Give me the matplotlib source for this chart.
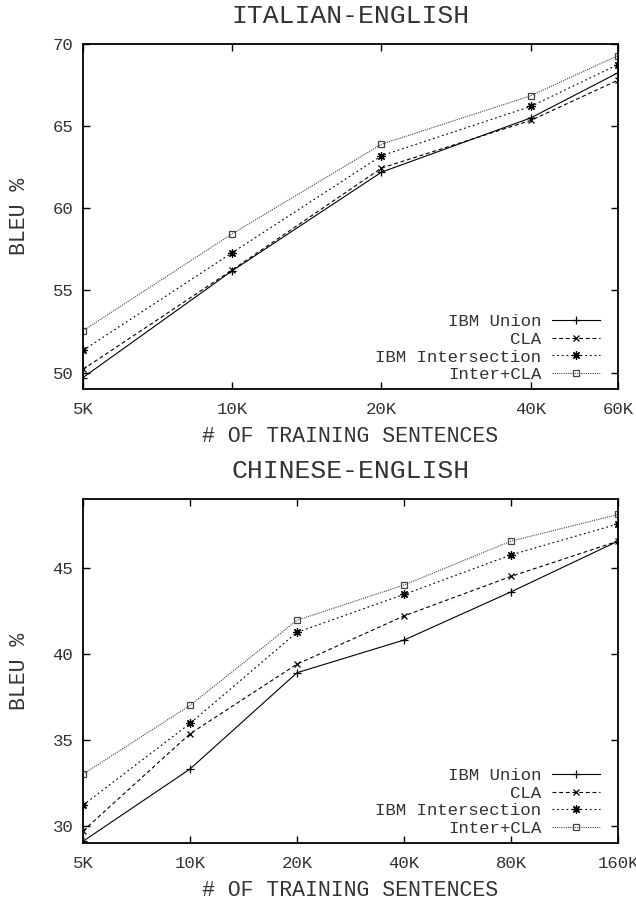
import matplotlib
matplotlib.use("Agg")
import matplotlib.pyplot as plt

# training set sizes
it_sizes = [5000, 10000, 20000, 40000, 60000]
it_labels = ["5K", "10K", "20K", "40K", "60K"]
zh_sizes = [5000, 10000, 20000, 40000, 80000, 160000]
zh_labels = ["5K", "10K", "20K", "40K", "80K", "160K"]

# BLEU %
it_union = [49.7, 56.2, 62.2, 65.5, 68.25]
it_cla = [50.2, 56.25, 62.45, 65.35, 67.8]
it_inter = [51.35, 57.3, 63.2, 66.2, 68.75]
it_inter_cla = [52.55, 58.45, 63.9, 66.85, 69.3]

zh_union = [29.1, 33.3, 38.9, 40.8, 43.6, 46.55]
zh_cla = [29.7, 35.35, 39.4, 42.2, 44.5, 46.55]
zh_inter = [31.2, 35.95, 41.25, 43.45, 45.75, 47.55]
zh_inter_cla = [33.0, 37.0, 41.95, 44.0, 46.55, 48.1]

series_names = ["IBM Union", "CLA", "IBM Intersection", "Inter+CLA"]

plt.rcParams['font.family'] = ['Liberation Mono', 'DejaVu Sans Mono']
TXT = '#333333'

styles = [
    dict(color='black', linestyle='-', marker='+', markersize=6),
    dict(color='black', linestyle=(0, (3.5, 2.5)), marker='x', markersize=5),
    dict(color='black', linestyle=(0, (1.6, 2.6)), marker=(8, 2, 0), markersize=6),
    dict(color='#444444', linestyle=(0, (1, 1)), marker='s', markersize=5,
         markerfacecolor='none'),
]


def draw_panel(ax, sizes, labels, series, title, ylim, yticks, xlabelpad):
    for vals, name, st in zip(series, series_names, styles):
        ax.plot(sizes, vals, label=name, linewidth=0.8, markeredgewidth=0.9, **st)
    ax.set_xscale('log', base=2)
    ax.set_xlim(sizes[0], sizes[-1])
    ax.set_xticks(sizes)
    ax.set_xticklabels(labels)
    ax.minorticks_off()
    ax.set_ylim(*ylim)
    ax.set_yticks(yticks)
    ax.tick_params(direction='in', length=5, width=1, top=True, right=True,
                   labelsize=12.5, labelcolor=TXT, pad=7)
    ax.tick_params(axis='x', pad=9)
    for sp in ax.spines.values():
        sp.set_linewidth(1.3)
    ax.set_title(title, fontsize=19, color=TXT, pad=15)
    ax.set_xlabel("# OF TRAINING SENTENCES", fontsize=15.5, color=TXT,
                  labelpad=xlabelpad)
    ax.set_ylabel("BLEU %", fontsize=15.5, color=TXT, labelpad=16)
    ax.legend(loc='lower right', markerfirst=False, frameon=False, fontsize=12.5,
              handlelength=2.8, handletextpad=0.6, labelspacing=0.14,
              borderaxespad=0.0, numpoints=1, bbox_to_anchor=(0.98, 0.0),
              labelcolor=TXT)


fig = plt.figure(figsize=(6.36, 9.02), dpi=100)
ax1 = fig.add_axes([0.1305, 0.5687, 0.8412, 0.3825])
ax2 = fig.add_axes([0.1305, 0.0654, 0.8412, 0.3814])

draw_panel(ax1, it_sizes, it_labels, [it_union, it_cla, it_inter, it_inter_cla],
           "ITALIAN-ENGLISH", (49, 70), [50, 55, 60, 65, 70], 7)
draw_panel(ax2, zh_sizes, zh_labels, [zh_union, zh_cla, zh_inter, zh_inter_cla],
           "CHINESE-ENGLISH", (29, 49), [30, 35, 40, 45], 7)

fig.savefig("out.png", dpi=100)
